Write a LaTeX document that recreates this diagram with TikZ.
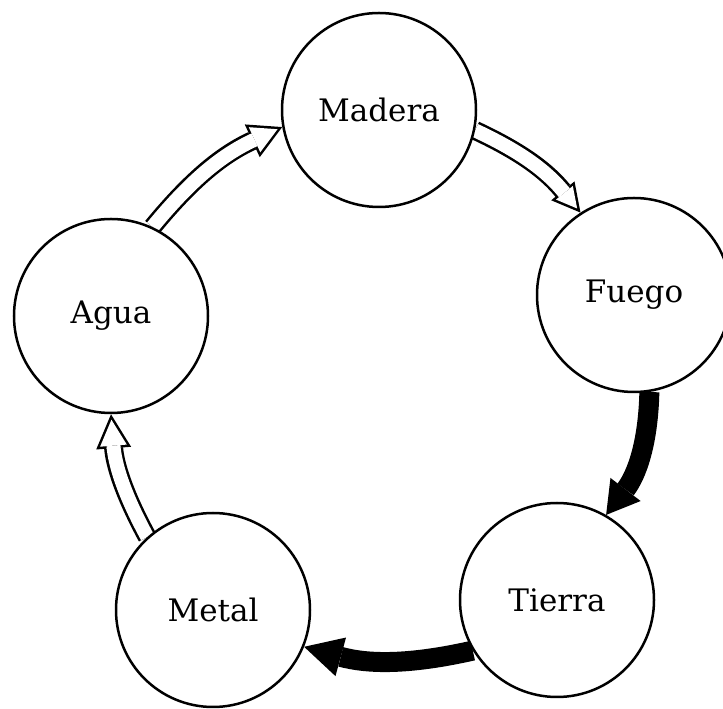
\documentclass[tikz,border=0pt]{standalone}
\usepackage{fontspec}
\setmainfont{DejaVu Serif}
\usetikzlibrary{arrows.meta,backgrounds}

\tikzset{
  element/.style={circle, draw, line width=2.5pt, fill=white,
    minimum size=194pt, inner sep=0pt,
    font=\fontsize{31}{36}\selectfont},
  % thick black arrow
  solidarrow/.style 2 args={line width=20pt, black,
    -{Triangle[length=#1, width=#2, line width=0pt]}},
  % outline arrow: black body first, then a white core on top
  hollowbody/.style 2 args={line width=19pt, black,
    -{Triangle[length=#1, width=#2, line width=0pt]}},
  hollowcore/.style n args={3}{line width=14pt, white, shorten >=#1,
    -{Triangle[length=#2, width=#3, line width=0pt]}},
}

\begin{document}
\begin{tikzpicture}[x=1pt,y=1pt]
\useasboundingbox (0,0) rectangle (723,709);

\node[element] (madera) at (379,599) {Madera};
\node[element] (fuego)  at (634,414) {Fuego};
\node[element] (tierra) at (557,109) {Tierra};
\node[element] (metal)  at (213,99)  {Metal};
\node[element] (agua)   at (111,393) {Agua};

\begin{pgfonlayer}{background}
  % Agua -> Madera
  \draw[hollowbody={33pt}{36pt}] (agua.65) to[bend left=13] (madera.190);
  \draw[hollowcore={5.2pt}{25.3pt}{27.6pt}] (agua.65) to[bend left=13] (madera.190);
  % Madera -> Fuego
  \draw[hollowbody={28pt}{30pt}] (madera.-12) to[bend left=13] (fuego.123);
  \draw[hollowcore={5.3pt}{20.2pt}{21.6pt}] (madera.-12) to[bend left=13] (fuego.123);
  % Fuego -> Tierra
  \draw[solidarrow={32pt}{38pt}] (fuego.-81) to[bend left=18] (tierra.60);
  % Tierra -> Metal
  \draw[solidarrow={38pt}{40pt}] (tierra.211) to[bend left=14] (metal.-22);
  % Metal -> Agua
  \draw[hollowbody={34pt}{35pt}] (metal.132) to[bend left=12] (agua.-90);
  \draw[hollowcore={5.5pt}{26pt}{26.8pt}] (metal.132) to[bend left=12] (agua.-90);
\end{pgfonlayer}
\end{tikzpicture}
\end{document}
